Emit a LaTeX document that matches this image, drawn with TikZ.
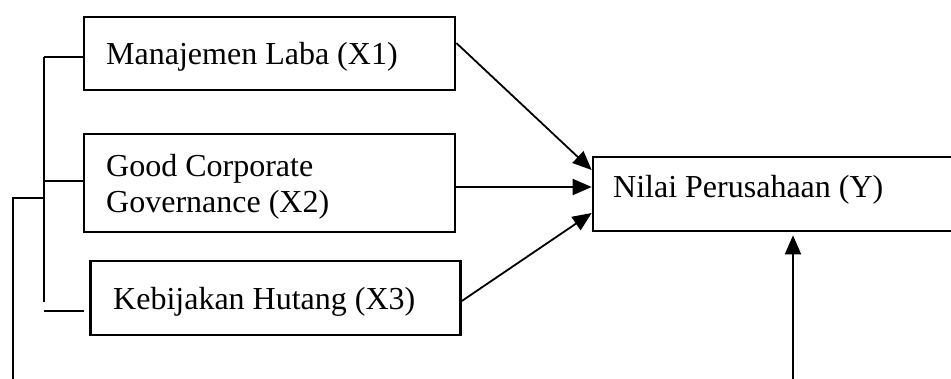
\documentclass[tikz,border=0pt]{standalone}
\usepackage{fontspec}
\setmainfont{Liberation Serif}
\usetikzlibrary{arrows.meta,calc}
\begin{document}
\begin{tikzpicture}[x=1pt,y=-1pt,
  box/.style={draw, line width=2.6pt, rectangle, inner sep=0pt},
  lbl/.style={anchor=base west, inner sep=0pt, font=\fontsize{32}{36}\selectfont, align=left},
  conn/.style={line width=1.8pt},
  arr/.style={conn, -{Triangle[length=19pt,width=16pt]}}]
\useasboundingbox (0,0) rectangle (951,379);
\clip (0,0) rectangle (951,379);
% boxes
\node[box, minimum width=371, minimum height=73] (b1) at (269.5,53.5) {};
\node[box, minimum width=371, minimum height=98] (b2) at (269.5,183) {};
\node[box, minimum width=370, minimum height=74] (b3) at (275.5,298) {};
\node[box, minimum width=420, minimum height=74] (y) at (803,194) {};
% texts
\node[lbl] (t1) at (106,65) {Manajemen Laba (X1)};
\node[lbl] (t2) at (106,177) {Good Corporate};
\node[lbl] (t2b) at (106,213) {Governance (X2)};
\node[lbl] (t3) at (113,310) {Kebijakan Hutang (X3)};
\node[lbl] (ty) at (613,198) {Nilai Perusahaan (Y)};
% arrows into Y
\draw[arr] ([yshift=10.5pt]b1.east) -- ([yshift=24pt]y.west);
\draw[arr] ([yshift=-4pt]b2.east) -- ([yshift=7pt]y.west);
\draw[arr] ([yshift=-3pt]b3.east) -- ([yshift=-19pt]y.west);
\coordinate (yb) at (793,385);
\draw[arr, shorten >=3pt] (yb) -- (yb |- y.south);
% left bracket
\coordinate (v1) at (44,57);
\coordinate (v2) at (44,302);
\coordinate (v3) at (44,311);
\coordinate (o1) at (13,385);
\coordinate (o2) at (13,198);
\coordinate (o3) at (44,198);
\draw[conn] (v1) -- (v2);
\draw[conn] (v1) -- (v1 -| b1.west);
\draw[conn] (44,181) -- (b2.west |- 44,181);
\draw[conn] (v3) -- (84,311);
\draw[conn] (o1) -- (o2) -- (o3);
\end{tikzpicture}
\end{document}
